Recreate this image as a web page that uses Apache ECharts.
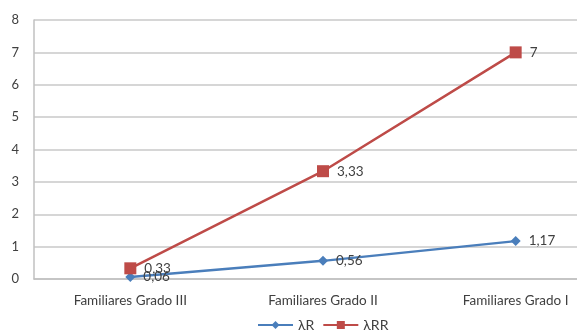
<!DOCTYPE html>
<html><head><meta charset="utf-8">
<script src="https://cdn.jsdelivr.net/npm/echarts@6/dist/echarts.min.js"></script>
<style>html,body{margin:0;padding:0;background:#fff}#c{width:577px;height:331px}</style>
</head><body><div id="c"></div>
<script>
const categories = ['Familiares Grado III', 'Familiares Grado II', 'Familiares Grado I'];
const lambdaR = [0.06, 0.56, 1.17];
const lambdaRR = [0.33, 3.33, 7];
const yTicks = [0, 1, 2, 3, 4, 5, 6, 7, 8];

const chart = echarts.init(document.getElementById('c'));
const fmt = p => String(p.value).replace('.', ',');
const font = 'Lato, "Liberation Sans", sans-serif';
chart.setOption({
  animation: false,
  textStyle: {fontFamily: font},
  grid: {left: 34, width: 578, top: 20, height: 259, outerBoundsMode: 'none', containLabel: false},
  legend: {
    top: 313, left: 252, itemWidth: 35, itemHeight: 10, itemGap: 8,
    textStyle: {fontSize: 14, color: '#404040', fontFamily: font},
    data: ['λR', 'λRR']
  },
  xAxis: {
    type: 'category', data: categories, boundaryGap: true,
    axisLine: {lineStyle: {color: '#c0c0c0', width: 1.5}},
    axisTick: {show: false},
    axisLabel: {fontSize: 13.5, color: '#404040', margin: 15, fontFamily: font}
  },
  yAxis: {
    type: 'value', min: yTicks[0], max: yTicks[yTicks.length - 1], interval: 1,
    axisLine: {show: true, lineStyle: {color: '#c0c0c0', width: 1.5}},
    axisTick: {show: false},
    axisLabel: {fontSize: 13, color: '#404040', margin: 15, fontFamily: font},
    splitLine: {lineStyle: {color: '#c8c8c8', width: 1.5}}
  },
  series: [
    {name: 'λR', type: 'line', data: lambdaR, symbol: 'diamond', symbolSize: 10,
     itemStyle: {color: '#4a7ebb'}, lineStyle: {width: 2.5, color: '#4a7ebb'},
     label: {show: true, position: 'right', distance: 8, fontSize: 13.5, color: '#404040', formatter: fmt}},
    {name: 'λRR', type: 'line', data: lambdaRR, symbol: 'rect', symbolSize: 12,
     itemStyle: {color: '#be4b48'}, lineStyle: {width: 2.5, color: '#be4b48'},
     label: {show: true, position: 'right', distance: 8, fontSize: 13.5, color: '#404040', formatter: fmt}}
  ]
});
</script></body></html>
